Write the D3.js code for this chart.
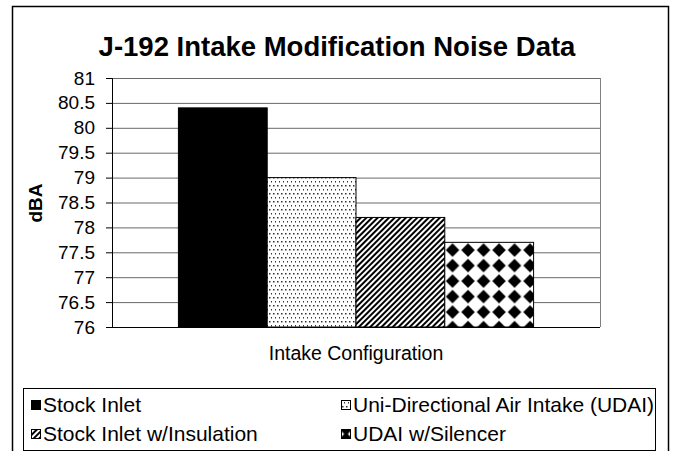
<!DOCTYPE html>
<html>
<head>
<meta charset="utf-8">
<script src="https://cdn.jsdelivr.net/npm/d3@7/dist/d3.min.js"></script>
<style>
  body { margin: 0; background: #fff; }
  svg { display: block; font-family: "Liberation Sans", Arial, sans-serif; }
</style>
</head>
<body>
<script>
// data
const categories = ['Intake Configuration'];
const series = ['Stock Inlet', 'Uni-Directional Air Intake (UDAI)', 'Stock Inlet w/Insulation', 'UDAI w/Silencer'];
const values = [80.4, 79.0, 78.2, 77.7];
const yTicks = [76, 76.5, 77, 77.5, 78, 78.5, 79, 79.5, 80, 80.5, 81];
const legendOrder = [0, 1, 2, 3]; // row by row, two columns

const W = 674, H = 451;
const plot = {left: 112, right: 600, top: 78, bottom: 327};
const fills = ['#000', 'url(#dots)', 'url(#stripes)', 'url(#diamonds)'];
const keyFills = ['#000', 'url(#dotsKey)', 'url(#stripesKey)', 'url(#diamondsKey)'];

const svg = d3.select('body').append('svg').attr('width', W).attr('height', H);
svg.append('rect').attr('width', W).attr('height', H).attr('fill', '#fff');

// scales
const y = d3.scaleLinear().domain([76, 81]).range([plot.bottom, plot.top]);
const x0 = d3.scaleBand().domain(categories).range([plot.left, plot.right]).paddingOuter(0.187).paddingInner(0);
const x1 = d3.scaleBand().domain(series).range([0, x0.bandwidth()]);

// patterns
const defs = svg.append('defs');
function dots(id) {
  const p = defs.append('pattern').attr('id', id).attr('patternUnits', 'userSpaceOnUse')
    .attr('width', 4).attr('height', 8);
  p.append('rect').attr('width', 4).attr('height', 8).attr('fill', '#fff');
  p.append('rect').attr('x', 1).attr('y', 1).attr('width', 1.5).attr('height', 1.5).attr('fill', '#333');
  p.append('rect').attr('x', 3).attr('y', 5).attr('width', 1.5).attr('height', 1.5).attr('fill', '#333');
}
dots('dots'); dots('dotsKey');

function stripes(id) {
  const p = defs.append('pattern').attr('id', id).attr('patternUnits', 'userSpaceOnUse')
    .attr('width', 4).attr('height', 4).attr('patternTransform', 'rotate(45)');
  p.append('rect').attr('width', 4).attr('height', 4).attr('fill', '#fff');
  p.append('rect').attr('width', 2).attr('height', 4).attr('fill', '#000');
}
stripes('stripes'); stripes('stripesKey');

// diamonds start at the bar corner
const d4x = x0(categories[0]) + x1(series[3]);
const d4y = y(values[3]);
const dp = defs.append('pattern').attr('id', 'diamonds').attr('patternUnits', 'userSpaceOnUse')
  .attr('x', d4x).attr('y', d4y).attr('width', 15.5).attr('height', 15.5);
dp.append('rect').attr('width', 15.5).attr('height', 15.5).attr('fill', '#fff');
dp.append('polygon').attr('points', '7.75,1 14.5,7.75 7.75,14.5 1,7.75').attr('fill', '#000');

const dk = defs.append('pattern').attr('id', 'diamondsKey').attr('patternUnits', 'objectBoundingBox')
  .attr('width', 1).attr('height', 1).attr('patternContentUnits', 'objectBoundingBox');
dk.append('rect').attr('width', 1).attr('height', 1).attr('fill', '#000');
dk.append('polygon').attr('points', '0,0.2 0.3,0.5 0,0.8').attr('fill', '#fff');
dk.append('polygon').attr('points', '1,0.2 0.7,0.5 1,0.8').attr('fill', '#fff');

// outer frame (bottom edge runs off the picture)
svg.append('rect').attr('x', 12.5).attr('y', 6.5).attr('width', 656).attr('height', 460)
  .attr('fill', 'none').attr('stroke', '#000').attr('stroke-width', 1.5);

// title
svg.append('text').attr('x', 337).attr('y', 56).attr('text-anchor', 'middle')
  .attr('font-size', 27.5).attr('font-weight', 'bold').text('J-192 Intake Modification Noise Data');

// grid
const grid = svg.append('g').attr('transform', `translate(${plot.left},0)`)
  .call(d3.axisLeft(y).tickValues(yTicks).tickSize(-(plot.right - plot.left)).tickFormat(''));
grid.select('.domain').remove();
grid.selectAll('.tick line').attr('stroke', '#6a6a6a');
svg.append('line').attr('x1', plot.right + 0.5).attr('x2', plot.right + 0.5)
  .attr('y1', plot.top).attr('y2', plot.bottom).attr('stroke', '#808080');

// bars
svg.append('g').selectAll('rect').data(values).enter().append('rect')
  .attr('x', (d, i) => x0(categories[0]) + x1(series[i]))
  .attr('y', d => y(d))
  .attr('width', x1.bandwidth())
  .attr('height', d => y(76) - y(d))
  .attr('fill', (d, i) => fills[i])
  .attr('stroke', '#000').attr('stroke-width', 1);

// y axis
const yAxisG = svg.append('g').attr('transform', `translate(${plot.left},0)`)
  .call(d3.axisLeft(y).tickValues(yTicks).tickSize(6).tickPadding(11).tickFormat(d3.format('')));
yAxisG.selectAll('text').attr('font-size', 19).attr('font-family', null).attr('fill', '#000');
yAxisG.selectAll('line, path').attr('stroke', '#000');

// x axis
const xAxisG = svg.append('g').attr('transform', `translate(0,${plot.bottom})`)
  .call(d3.axisBottom(x0).tickSize(0).tickFormat(''));
xAxisG.select('.domain').attr('stroke', '#000').attr('d', `M${plot.left},0.5H${plot.right}`);

svg.append('text').attr('x', (plot.left + plot.right) / 2).attr('y', 360).attr('text-anchor', 'middle')
  .attr('font-size', 19.5).text(categories[0]);

svg.append('text').attr('transform', 'translate(42,203) rotate(-90)').attr('text-anchor', 'middle')
  .attr('font-size', 19).attr('font-weight', 'bold').text('dBA');

// legend
svg.append('rect').attr('x', 23.5).attr('y', 388.5).attr('width', 632).attr('height', 62)
  .attr('fill', '#fff').attr('stroke', '#000');
const colX = [31, 341], rowY = [405, 434];
const items = svg.append('g').selectAll('g').data(legendOrder).enter().append('g')
  .attr('transform', (d, k) => `translate(${colX[k % 2]},${rowY[Math.floor(k / 2)]})`);
items.append('rect').attr('x', 0.5).attr('y', -4.5).attr('width', 9).attr('height', 9)
  .attr('fill', d => keyFills[d]).attr('stroke', '#000');
items.append('text').attr('x', 12).attr('dy', '0.35em').attr('font-size', 21).text(d => series[d]);
</script>
</body>
</html>
